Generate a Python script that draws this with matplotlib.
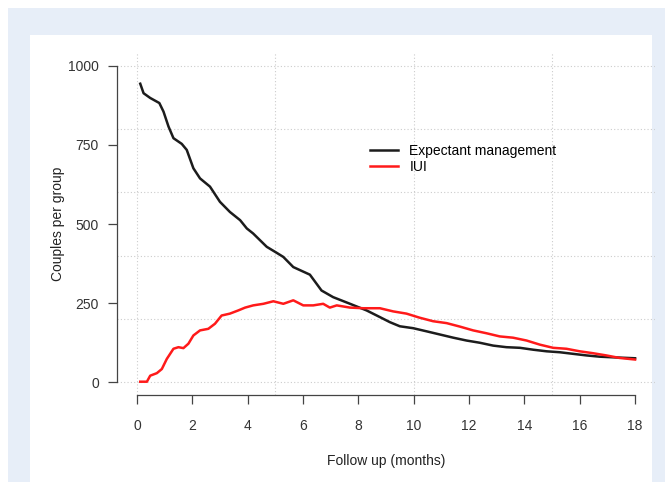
import matplotlib.pyplot as plt
from matplotlib.patches import Rectangle

plt.rcParams['font.family'] = ['Liberation Sans', 'DejaVu Sans']

# follow-up time (months) and couples per group
em_months = [0.12, 0.24, 0.48, 0.81, 0.96, 1.14, 1.32, 1.62, 1.80, 2.04, 2.28, 2.64,
             3.0, 3.36, 3.73, 3.97, 4.2, 4.69, 5.05, 5.29, 5.65, 6.0, 6.25, 6.67,
             7.09, 7.70, 8.3, 8.78, 9.14, 9.5, 9.98, 10.47, 10.95, 11.43, 11.91,
             12.39, 12.87, 13.35, 13.84, 14.32, 14.8, 15.28, 15.76, 16.24, 16.72,
             17.2, 18.0]
em_couples = [943, 913, 898, 882, 855, 808, 771, 753, 734, 676, 644, 618,
              570, 538, 512, 486, 470, 428, 409, 396, 364, 350, 340, 290,
              269, 248, 227, 206, 190, 177, 171, 161, 151, 141, 132,
              125, 116, 111, 109, 103, 98, 95, 90, 85, 81,
              79, 76]

iui_months = [0.12, 0.36, 0.48, 0.72, 0.9, 1.08, 1.32, 1.5, 1.68, 1.86, 2.04, 2.28,
              2.58, 2.82, 3.06, 3.36, 3.66, 3.91, 4.2, 4.57, 4.93, 5.29, 5.65,
              6.01, 6.37, 6.73, 6.97, 7.22, 7.7, 8.18, 8.78, 9.26, 9.74, 10.22,
              10.7, 11.19, 11.67, 12.15, 12.63, 13.11, 13.59, 14.08, 14.56, 15.04,
              15.52, 16.0, 16.48, 16.96, 17.44, 18.0]
iui_couples = [2, 2, 21, 29, 42, 74, 106, 111, 108, 122, 148, 164,
               169, 185, 211, 217, 227, 236, 243, 248, 256, 248, 259,
               243, 243, 248, 236, 243, 236, 234, 234, 224, 217, 204,
               193, 187, 176, 164, 155, 145, 141, 132, 119, 109,
               106, 98, 92, 85, 77, 72]

x_ticks = list(range(0, 19, 2))
y_ticks = [0, 250, 500, 750, 1000]

W, H = 665, 482
fig = plt.figure(figsize=(W / 100, H / 100), dpi=100)
fig.patch.set_facecolor('white')
fig.patches.append(Rectangle((8 / W, 0), (W - 8) / W, (H - 8) / H,
                             transform=fig.transFigure, facecolor='#e7eef8',
                             edgecolor='none', zorder=-10))
fig.patches.append(Rectangle((30 / W, 0), 622 / W, (H - 35) / H,
                             transform=fig.transFigure, facecolor='white',
                             edgecolor='none', zorder=-9))

ax = fig.add_axes([117 / W, 1 - 395 / H, 538 / W, 342 / H])
ax.patch.set_alpha(0)
ax.set_xlim(-0.72, 18.72)
ax.set_ylim(-40, 1040)

# dotted grid like R's grid()
for gx in [0, 5, 10, 15]:
    ax.axvline(gx, color='#cccccc', lw=0.8, ls=(0, (1, 2)), zorder=1)
for gy in range(0, 1001, 200):
    ax.axhline(gy, color='#cccccc', lw=0.8, ls=(0, (1, 2)), zorder=1)

ax.plot(em_months, em_couples, color='#1c1c1c', lw=1.8, label='Expectant management',
        zorder=3, solid_joinstyle='round')
ax.plot(iui_months, iui_couples, color='#ff1a1a', lw=1.8, label='IUI',
        zorder=3, solid_joinstyle='round')

for s in ['top', 'right']:
    ax.spines[s].set_visible(False)
ax.spines['left'].set_bounds(0, 1000)
ax.spines['bottom'].set_bounds(0, 18)
for s in ['left', 'bottom']:
    ax.spines[s].set_color('#444444')
    ax.spines[s].set_linewidth(0.9)

ax.set_xticks(x_ticks)
ax.set_yticks(y_ticks)
ax.tick_params(axis='both', direction='out', length=6.5, width=0.9,
               color='#444444', labelcolor='#333333', labelsize=10)
ax.tick_params(axis='x', pad=11)
ax.tick_params(axis='y', pad=6.5)

ax.set_xlabel('Follow up (months)', fontsize=10, color='#222222', labelpad=15)
ax.set_ylabel('Couples per group', fontsize=10, color='#222222', labelpad=2)

ax.legend(loc='upper left', bbox_to_anchor=(0.47, 0.734), bbox_transform=ax.transAxes,
          frameon=False, fontsize=10, borderpad=0, borderaxespad=0,
          handlelength=2.0, handletextpad=0.85, labelspacing=0.15)

fig.savefig('out.png', dpi=100)
